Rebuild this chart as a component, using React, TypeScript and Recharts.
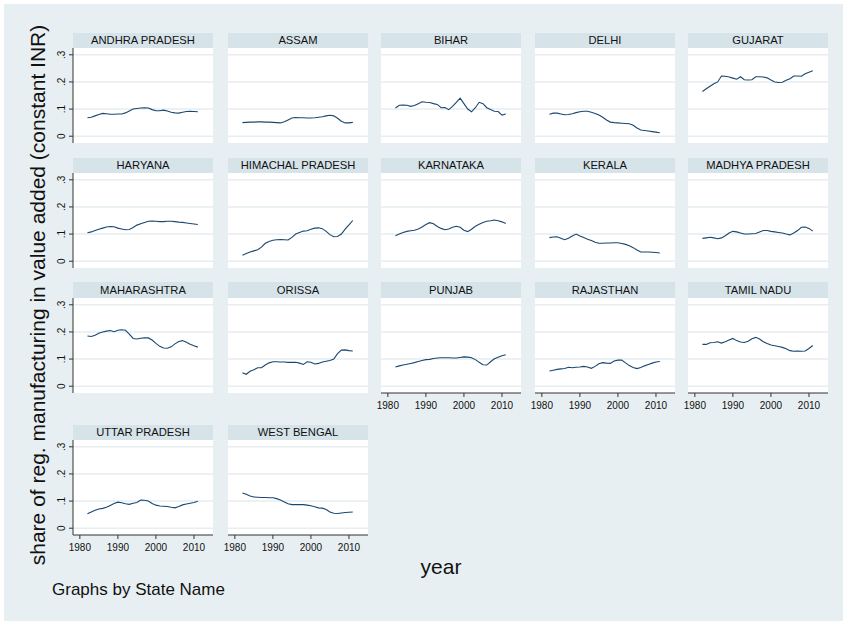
import React from "react";
import { LineChart, Line, XAxis, YAxis, ReferenceLine } from "recharts";

const years = [1982, 1983, 1984, 1985, 1986, 1987, 1988, 1989, 1990, 1991, 1992, 1993, 1994, 1995, 1996, 1997, 1998, 1999, 2000, 2001, 2002, 2003, 2004, 2005, 2006, 2007, 2008, 2009, 2010, 2011];

const stateNames = [
  "ANDHRA PRADESH", "ASSAM", "BIHAR", "DELHI", "GUJARAT",
  "HARYANA", "HIMACHAL PRADESH", "KARNATAKA", "KERALA", "MADHYA PRADESH",
  "MAHARASHTRA", "ORISSA", "PUNJAB", "RAJASTHAN", "TAMIL NADU",
  "UTTAR PRADESH", "WEST BENGAL",
];

const andhraPradesh = [0.068, 0.070, 0.075, 0.080, 0.084, 0.083, 0.081, 0.081, 0.082, 0.082, 0.086, 0.093, 0.100, 0.102, 0.104, 0.105, 0.104, 0.098, 0.094, 0.094, 0.096, 0.093, 0.088, 0.086, 0.085, 0.088, 0.091, 0.092, 0.091, 0.090];
const assam = [0.050, 0.051, 0.052, 0.052, 0.053, 0.053, 0.052, 0.052, 0.051, 0.050, 0.049, 0.053, 0.060, 0.067, 0.069, 0.068, 0.068, 0.067, 0.067, 0.068, 0.070, 0.072, 0.075, 0.077, 0.075, 0.066, 0.055, 0.049, 0.049, 0.051];
const bihar = [0.104, 0.114, 0.115, 0.114, 0.110, 0.113, 0.120, 0.127, 0.125, 0.124, 0.120, 0.117, 0.105, 0.106, 0.098, 0.110, 0.125, 0.140, 0.120, 0.100, 0.090, 0.105, 0.125, 0.120, 0.105, 0.098, 0.092, 0.091, 0.078, 0.082];
const delhi = [0.081, 0.085, 0.085, 0.082, 0.079, 0.080, 0.083, 0.087, 0.090, 0.092, 0.092, 0.088, 0.084, 0.078, 0.070, 0.060, 0.052, 0.050, 0.049, 0.048, 0.047, 0.046, 0.040, 0.030, 0.023, 0.021, 0.019, 0.017, 0.015, 0.013];
const gujarat = [0.165, 0.175, 0.184, 0.193, 0.200, 0.222, 0.221, 0.218, 0.214, 0.210, 0.219, 0.208, 0.207, 0.208, 0.219, 0.219, 0.218, 0.215, 0.207, 0.200, 0.198, 0.199, 0.206, 0.212, 0.222, 0.222, 0.221, 0.230, 0.236, 0.241];
const haryana = [0.105, 0.108, 0.113, 0.118, 0.122, 0.126, 0.128, 0.127, 0.122, 0.119, 0.116, 0.117, 0.124, 0.133, 0.138, 0.143, 0.147, 0.148, 0.147, 0.146, 0.146, 0.147, 0.147, 0.146, 0.144, 0.143, 0.141, 0.139, 0.137, 0.135];
const himachalPradesh = [0.022, 0.028, 0.034, 0.038, 0.042, 0.052, 0.066, 0.073, 0.077, 0.079, 0.080, 0.079, 0.078, 0.088, 0.100, 0.106, 0.111, 0.112, 0.118, 0.122, 0.123, 0.120, 0.110, 0.098, 0.090, 0.091, 0.100, 0.118, 0.134, 0.150];
const karnataka = [0.094, 0.100, 0.106, 0.110, 0.112, 0.114, 0.119, 0.126, 0.135, 0.142, 0.138, 0.128, 0.121, 0.116, 0.119, 0.125, 0.129, 0.125, 0.114, 0.109, 0.118, 0.129, 0.136, 0.143, 0.147, 0.149, 0.152, 0.149, 0.145, 0.139];
const kerala = [0.087, 0.089, 0.090, 0.085, 0.079, 0.085, 0.093, 0.100, 0.093, 0.087, 0.081, 0.076, 0.070, 0.066, 0.066, 0.067, 0.067, 0.068, 0.068, 0.065, 0.062, 0.057, 0.050, 0.041, 0.034, 0.034, 0.034, 0.033, 0.032, 0.030];
const madhyaPradesh = [0.084, 0.086, 0.088, 0.086, 0.083, 0.086, 0.094, 0.104, 0.110, 0.108, 0.104, 0.100, 0.100, 0.101, 0.102, 0.108, 0.113, 0.113, 0.110, 0.108, 0.106, 0.104, 0.100, 0.097, 0.104, 0.113, 0.125, 0.126, 0.121, 0.111];
const maharashtra = [0.185, 0.183, 0.188, 0.195, 0.200, 0.203, 0.205, 0.201, 0.206, 0.208, 0.206, 0.192, 0.176, 0.174, 0.177, 0.178, 0.178, 0.170, 0.158, 0.147, 0.141, 0.140, 0.145, 0.156, 0.165, 0.168, 0.162, 0.155, 0.149, 0.144];
const orissa = [0.050, 0.044, 0.055, 0.061, 0.068, 0.068, 0.078, 0.086, 0.090, 0.090, 0.089, 0.089, 0.088, 0.088, 0.088, 0.085, 0.080, 0.090, 0.088, 0.082, 0.084, 0.089, 0.092, 0.095, 0.100, 0.120, 0.133, 0.134, 0.131, 0.130];
const punjab = [0.071, 0.075, 0.078, 0.081, 0.084, 0.087, 0.091, 0.095, 0.098, 0.099, 0.102, 0.104, 0.105, 0.105, 0.105, 0.104, 0.104, 0.106, 0.108, 0.107, 0.105, 0.098, 0.088, 0.079, 0.078, 0.090, 0.101, 0.107, 0.112, 0.116];
const rajasthan = [0.056, 0.059, 0.062, 0.064, 0.065, 0.070, 0.068, 0.070, 0.071, 0.073, 0.071, 0.066, 0.073, 0.083, 0.087, 0.085, 0.084, 0.093, 0.096, 0.096, 0.086, 0.076, 0.069, 0.065, 0.069, 0.075, 0.080, 0.085, 0.089, 0.091];
const tamilNadu = [0.154, 0.154, 0.160, 0.161, 0.164, 0.159, 0.164, 0.170, 0.176, 0.168, 0.163, 0.161, 0.166, 0.175, 0.180, 0.174, 0.164, 0.157, 0.152, 0.149, 0.146, 0.143, 0.138, 0.131, 0.129, 0.130, 0.129, 0.130, 0.139, 0.150];
const uttarPradesh = [0.053, 0.060, 0.066, 0.071, 0.073, 0.077, 0.084, 0.091, 0.096, 0.094, 0.090, 0.088, 0.092, 0.095, 0.104, 0.103, 0.100, 0.091, 0.085, 0.082, 0.081, 0.080, 0.077, 0.075, 0.080, 0.086, 0.089, 0.092, 0.095, 0.099];
const westBengal = [0.130, 0.125, 0.119, 0.115, 0.114, 0.113, 0.113, 0.112, 0.112, 0.109, 0.104, 0.097, 0.090, 0.087, 0.087, 0.087, 0.087, 0.085, 0.083, 0.079, 0.075, 0.074, 0.069, 0.060, 0.055, 0.054, 0.056, 0.058, 0.059, 0.060];

const stateSeries = [
  andhraPradesh, assam, bihar, delhi, gujarat,
  haryana, himachalPradesh, karnataka, kerala, madhyaPradesh,
  maharashtra, orissa, punjab, rajasthan, tamilNadu,
  uttarPradesh, westBengal,
];

const yTicks = [0, 0.1, 0.2, 0.3];
const yTickLabels = ["0", ".1", ".2", ".3"];
const xTicks = [1980, 1990, 2000, 2010];

const yTitle = "share of reg. manufacturing in value added (constant INR)";
const xTitle = "year";
const note = "Graphs by State Name";

const FONT = '"Liberation Sans", Arial, Helvetica, sans-serif';
const BG = "#e8eff2";
const STRIP = "#d6e3e9";
const GRID = "#e6eef1";
const LINE = "#1a476f";
const AXIS = "#333";

const COL_X = [73, 228, 381, 535, 688];
const ROW_PLOT_TOP = [48, 173, 297.5, 440];
const PLOT_W = 140;
const PLOT_H = 95;
const STRIP_H = 15.5;
const Y_AXIS_W = 24;
const X_AXIS_H = 22;
const RIGHT_PAD = 6;

function Panel({ index }: { index: number }) {
  const row = Math.floor(index / 5);
  const col = index % 5;
  const showY = col === 0;
  const showX = index >= 12;
  const values = stateSeries[index];
  const data = years.map((y, i) => ({ year: y, v: values[i] }));
  const left = COL_X[col];
  const top = ROW_PLOT_TOP[row];
  const chartLeft = left - Y_AXIS_W;
  const w = PLOT_W + Y_AXIS_W + RIGHT_PAD;
  const h = PLOT_H + (showX ? X_AXIS_H : 0);

  const xTick = (p: any) => (
    <text
      x={p.x}
      y={PLOT_H + 15.5}
      textAnchor="middle"
      fontSize={10}
      fontFamily={FONT}
      fill="#111"
    >
      {p.payload.value}
    </text>
  );
  const yTick = (p: any) => {
    const idx = yTicks.indexOf(p.payload.value);
    return (
      <text
        transform={`translate(${Y_AXIS_W - 8},${p.y}) rotate(-90)`}
        textAnchor="middle"
        fontSize={10}
        fontFamily={FONT}
        fill="#111"
      >
        {idx >= 0 ? yTickLabels[idx] : ""}
      </text>
    );
  };

  return (
    <>
      <div
        style={{
          position: "absolute",
          left,
          top: top - STRIP_H,
          width: PLOT_W,
          height: STRIP_H,
          background: STRIP,
          fontFamily: FONT,
          fontSize: 11.2,
          color: "#111",
          display: "flex",
          alignItems: "center",
          justifyContent: "center",
          whiteSpace: "nowrap",
        }}
      >
        {stateNames[index]}
      </div>
      <div
        style={{
          position: "absolute",
          left,
          top,
          width: PLOT_W,
          height: PLOT_H,
          background: "#ffffff",
        }}
      />
      <div style={{ position: "absolute", left: chartLeft, top }}>
        <LineChart
          width={w}
          height={h}
          data={data}
          margin={{ top: 0, right: RIGHT_PAD, bottom: 0, left: showY ? 0 : Y_AXIS_W }}
        >
          <XAxis
            dataKey="year"
            type="number"
            domain={[1978.2, 2015]}
            ticks={xTicks}
            interval={0}
            allowDataOverflow
            hide={!showX}
            height={X_AXIS_H}
            axisLine={{ stroke: AXIS, strokeWidth: 1 }}
            tickLine={{ stroke: AXIS, strokeWidth: 1 }}
            tickSize={4}
            tick={xTick}
          />
          <YAxis
            type="number"
            domain={[-0.025, 0.325]}
            ticks={yTicks}
            interval={0}
            allowDataOverflow
            hide={!showY}
            width={Y_AXIS_W}
            axisLine={{ stroke: AXIS, strokeWidth: 1 }}
            tickLine={{ stroke: AXIS, strokeWidth: 1 }}
            tickSize={4}
            tick={yTick}
          />
          {yTicks.map((t) => (
            <ReferenceLine key={t} y={t} stroke={GRID} strokeWidth={1.5} />
          ))}
          <Line
            type="linear"
            dataKey="v"
            stroke={LINE}
            strokeWidth={1.1}
            dot={false}
            activeDot={false}
            isAnimationActive={false}
          />
        </LineChart>
      </div>
    </>
  );
}

export default function App() {
  return (
    <div
      style={{
        position: "fixed",
        left: 0,
        top: 0,
        width: 845,
        height: 622,
        background: "#ffffff",
        overflow: "hidden",
      }}
    >
      <svg width={845} height={622} style={{ position: "absolute", left: 0, top: 0 }}>
        <rect x={4} y={4} width={839} height={617} fill={BG} />
        <text
          transform="translate(45,295) rotate(-90)"
          textAnchor="middle"
          fontSize={21}
          fontFamily={FONT}
          fill="#111"
        >
          {yTitle}
        </text>
        <text x={441} y={574} textAnchor="middle" fontSize={21} fontFamily={FONT} fill="#111">
          {xTitle}
        </text>
        <text x={52} y={595} fontSize={17} fontFamily={FONT} fill="#111">
          {note}
        </text>
      </svg>
      {stateNames.map((_, i) => (
        <Panel key={i} index={i} />
      ))}
    </div>
  );
}
